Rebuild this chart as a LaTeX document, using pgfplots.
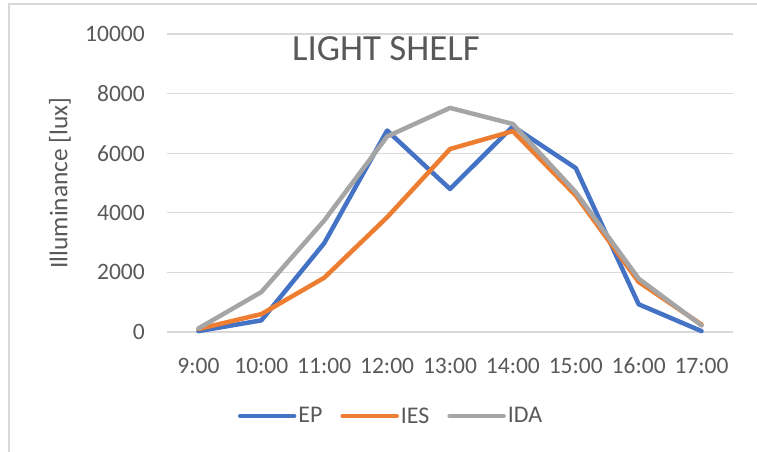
\documentclass[border=0pt]{standalone}
\usepackage{pgfplots}
\pgfplotsset{compat=1.18}
\usepackage{fontspec}
\setmainfont{Carlito}
\definecolor{ep}{HTML}{4472C4}
\definecolor{ies}{HTML}{ED7D31}
\definecolor{ida}{HTML}{A5A5A5}
\definecolor{txt}{HTML}{595959}
\definecolor{grd}{HTML}{D9D9D9}
\begin{document}
\begin{tikzpicture}
\useasboundingbox (0,0) rectangle (757bp,452bp);
\draw[grd, line width=1.2bp] (9bp,0bp) -- (9bp,448bp) -- (757bp,448bp);
\begin{axis}[
  at={(167bp,120bp)}, anchor=south west,
  scale only axis, width=566bp, height=298bp,
  xmin=-0.5, xmax=8.5, ymin=0, ymax=10000,
  xtick={0,...,8},
  xticklabels={9:00,10:00,11:00,12:00,13:00,14:00,15:00,16:00,17:00},
  ytick={0,2000,...,10000},
  scaled y ticks=false,
  /pgf/number format/assume math mode=true,
  yticklabel={\pgfmathprintnumber[fixed,1000 sep={}]{\tick}},
  ymajorgrids, xmajorgrids=false,
  major grid style={draw=grd, line width=1.2bp},
  axis line style={draw=none},
  major tick length=0pt,
  tick label style={font=\fontsize{23.6}{28}\selectfont, text=txt},
  xticklabel style={anchor=center, inner sep=0pt, yshift=-34bp},
  yticklabel style={anchor=east, inner sep=0pt, xshift=-22bp},
  ylabel={Illuminance [lux]},
  ylabel style={font=\fontsize{25.5}{30}\selectfont, text=txt, at={(axis description cs:-0.189,0.5)}, anchor=center},
  clip=false,
  legend columns=3,
  legend style={draw=none, fill=none, at={(0.3958,-0.282)}, anchor=center,
    font=\fontsize{24}{28}\selectfont, text=txt, inner sep=0pt,
    /tikz/every even column/.append style={column sep=16bp}},
  legend image code/.code={\draw[#1, line width=4.5bp, line cap=round] (0bp,0bp) -- (54bp,0bp);},
  every axis plot/.append style={line width=4.5bp, line join=round, line cap=round},
]
\addplot[ep] coordinates {(0,30) (1,390) (2,2980) (3,6760) (4,4800) (5,6900) (6,5500) (7,930) (8,30)};
\addlegendentry{EP}
\addplot[ies] coordinates {(0,100) (1,600) (2,1820) (3,3850) (4,6140) (5,6740) (6,4580) (7,1680) (8,250)};
\addlegendentry{IES}
\addplot[ida] coordinates {(0,120) (1,1340) (2,3740) (3,6560) (4,7520) (5,6980) (6,4690) (7,1790) (8,220)};
\addlegendentry{IDA}
\end{axis}
\node[anchor=west, inner sep=0pt, text=txt, font=\fontsize{37}{42}\selectfont] at (292bp,403.5bp) {LIGHT SHELF};
\end{tikzpicture}
\end{document}
